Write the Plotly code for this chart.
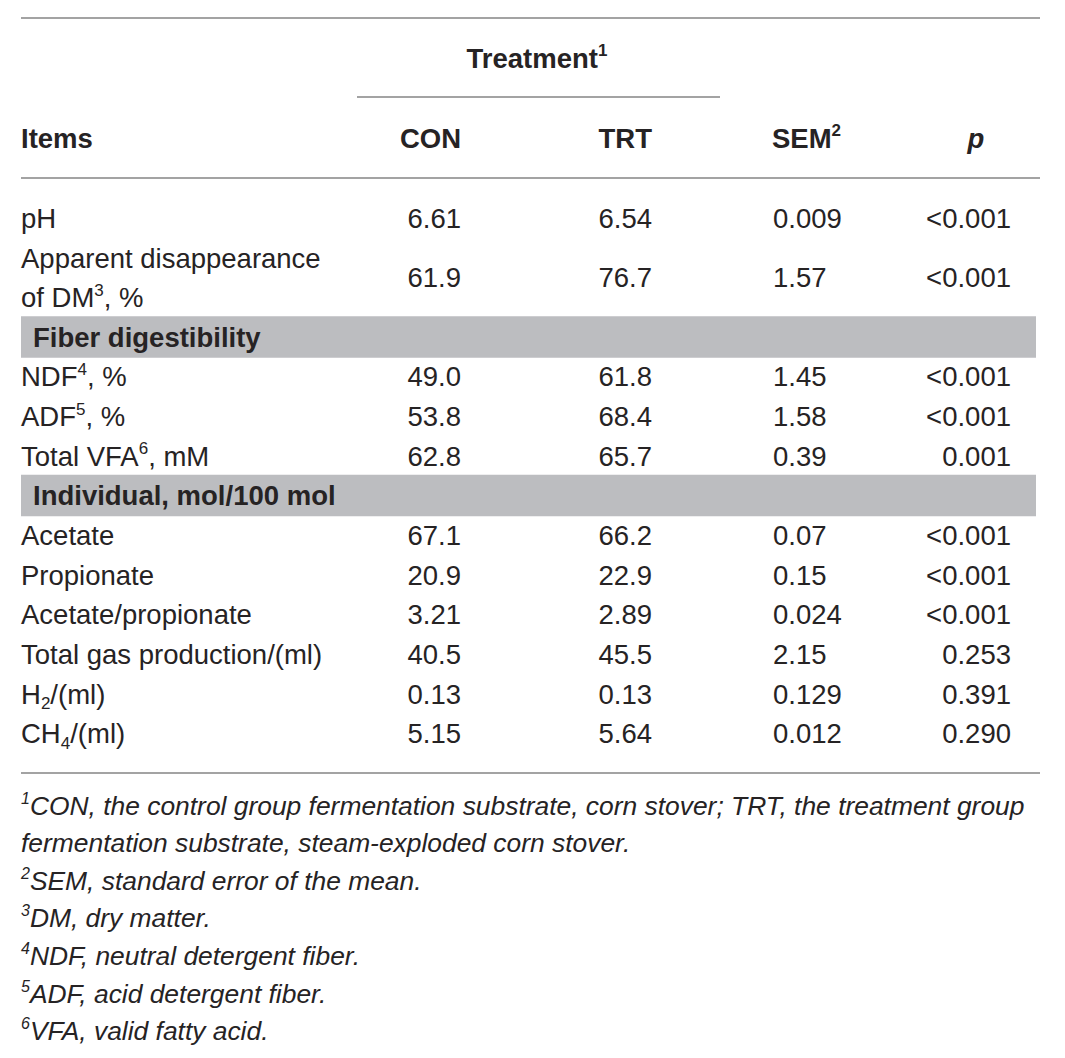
import numpy as np
import plotly.graph_objects as go

# Table content.
items = ["pH", "Apparent disappearance", "of DM{3}, %", "Fiber digestibility",
         "NDF{4}, %", "ADF{5}, %", "Total VFA{6}, mM",
         "Individual, mol/100 mol", "Acetate", "Propionate", "Acetate/propionate",
         "Total gas production/(ml)", "H_2/(ml)", "CH_4/(ml)"]
item_rows = [0, 1, 2, 3, 4, 5, 6, 7, 8, 9, 10, 11, 12, 13]
section_rows = [3, 7]

value_rows = [0, 1.5, 4, 5, 6, 8, 9, 10, 11, 12, 13]
con = ["6.61", "61.9", "49.0", "53.8", "62.8", "67.1", "20.9", "3.21", "40.5", "0.13", "5.15"]
trt = ["6.54", "76.7", "61.8", "68.4", "65.7", "66.2", "22.9", "2.89", "45.5", "0.13", "5.64"]
sem = ["0.009", "1.57", "1.45", "1.58", "0.39", "0.07", "0.15", "0.024", "2.15", "0.129", "0.012"]
pval = ["<0.001", "<0.001", "<0.001", "<0.001", "0.001", "<0.001", "<0.001", "<0.001",
        "0.253", "0.391", "0.290"]

footnotes = [
    "{1}CON, the control group fermentation substrate, corn stover; TRT, the treatment group",
    "fermentation substrate, steam-exploded corn stover.",
    "{2}SEM, standard error of the mean.",
    "{3}DM, dry matter.",
    "{4}NDF, neutral detergent fiber.",
    "{5}ADF, acid detergent fiber.",
    "{6}VFA, valid fatty acid.",
]

# Layout (page pixel units on both axes; the page body has an 8 px margin).
PAGE_W, PAGE_H, PAD = 1065, 1058, 8
ROW0, ROW_H = 221, 39.65
FOOT0, FOOT_H = 808, 37.6
X_LEFT, X_RIGHT = 21, 1040
INK = "#262324"
RULE = "#858585"
BAND = "#bcbdc0"
FONT = "Liberation Sans, Arial, sans-serif"
FS = 27.5
FS_NOTE = 26.4


def row_y(rows):
    return ROW0 + ROW_H * np.asarray(rows, dtype=float)


def fmt(s, size=FS):
    # {n} -> small superscript, _n -> small subscript, "<" -> entity
    s = s.replace("<0", "&lt;0")
    small = "<span style='font-size:%.0fpx'>%s</span>"
    out = ""
    i = 0
    while i < len(s):
        c = s[i]
        if c == "{":
            j = s.index("}", i)
            out += "<sup>" + small % (size * 0.62, s[i + 1:j]) + "</sup>"
            i = j + 1
        elif c == "_":
            out += "<sub>" + small % (size * 0.62, s[i + 1]) + "</sub>"
            i += 2
        else:
            out += c
            i += 1
    return out


def text_trace(x, y, text, pos, size=FS):
    return go.Scatter(x=x, y=y, text=text, mode="text", textposition=pos,
                      textfont=dict(family=FONT, size=size, color=INK),
                      hoverinfo="skip", showlegend=False, cliponaxis=False)


fig = go.Figure()

# Gray section bands.
for r in section_rows:
    yc = row_y([r])[0] - 3
    fig.add_shape(type="rect", xref="x", yref="y", x0=X_LEFT, x1=1036,
                  y0=yc - 20.7, y1=yc + 20.7, fillcolor=BAND, line_width=0, layer="below")

# Rules.
for y in [18, 178, 773]:
    fig.add_shape(type="line", xref="x", yref="y", x0=X_LEFT, x1=X_RIGHT, y0=y, y1=y,
                  line=dict(color=RULE, width=1.5))
fig.add_shape(type="line", xref="x", yref="y", x0=357, x1=720, y0=97, y1=97,
              line=dict(color=RULE, width=1.5))

# Header.
fig.add_trace(text_trace([537], [61], ["<b>" + fmt("Treatment{1}") + "</b>"], "middle center"))
fig.add_trace(text_trace([X_LEFT], [141], ["<b>Items</b>"], "middle right"))
fig.add_trace(text_trace([461, 652], [141, 141], ["<b>CON</b>", "<b>TRT</b>"], "middle left"))
fig.add_trace(text_trace([772], [141], ["<b>" + fmt("SEM{2}") + "</b>"], "middle right"))
fig.add_trace(text_trace([976], [141], ["<b><i>p</i></b>"], "middle center"))

# Item labels.
plain = [(r, t) for r, t in zip(item_rows, items) if r not in section_rows]
bold = [(r, t) for r, t in zip(item_rows, items) if r in section_rows]
fig.add_trace(text_trace([X_LEFT] * len(plain), row_y([r for r, _ in plain]),
                         [fmt(t) for _, t in plain], "middle right"))
fig.add_trace(text_trace([33] * len(bold), row_y([r for r, _ in bold]),
                         ["<b>%s</b>" % fmt(t) for _, t in bold], "middle right"))

# Values.
vy = row_y(value_rows)
n = len(value_rows)
fig.add_trace(text_trace([461] * n, vy, con, "middle left"))
fig.add_trace(text_trace([652] * n, vy, trt, "middle left"))
fig.add_trace(text_trace([773] * n, vy, sem, "middle right"))
fig.add_trace(text_trace([1011] * n, vy, [fmt(p) for p in pval], "middle left"))

# Footnotes.
fy = FOOT0 + FOOT_H * np.arange(len(footnotes))
fig.add_trace(text_trace([X_LEFT] * len(footnotes), fy,
                         ["<i>%s</i>" % fmt(f, FS_NOTE) for f in footnotes],
                         "middle right", size=FS_NOTE))

W, H = PAGE_W - 2 * PAD, PAGE_H - 2 * PAD
fig.update_xaxes(range=[PAD, PAD + W], visible=False, fixedrange=True)
fig.update_yaxes(range=[PAD + H, PAD], visible=False, fixedrange=True)
fig.update_layout(width=W, height=H, margin=dict(l=0, r=0, t=0, b=0),
                  plot_bgcolor="white", paper_bgcolor="white")

fig.write_html("out.html")
